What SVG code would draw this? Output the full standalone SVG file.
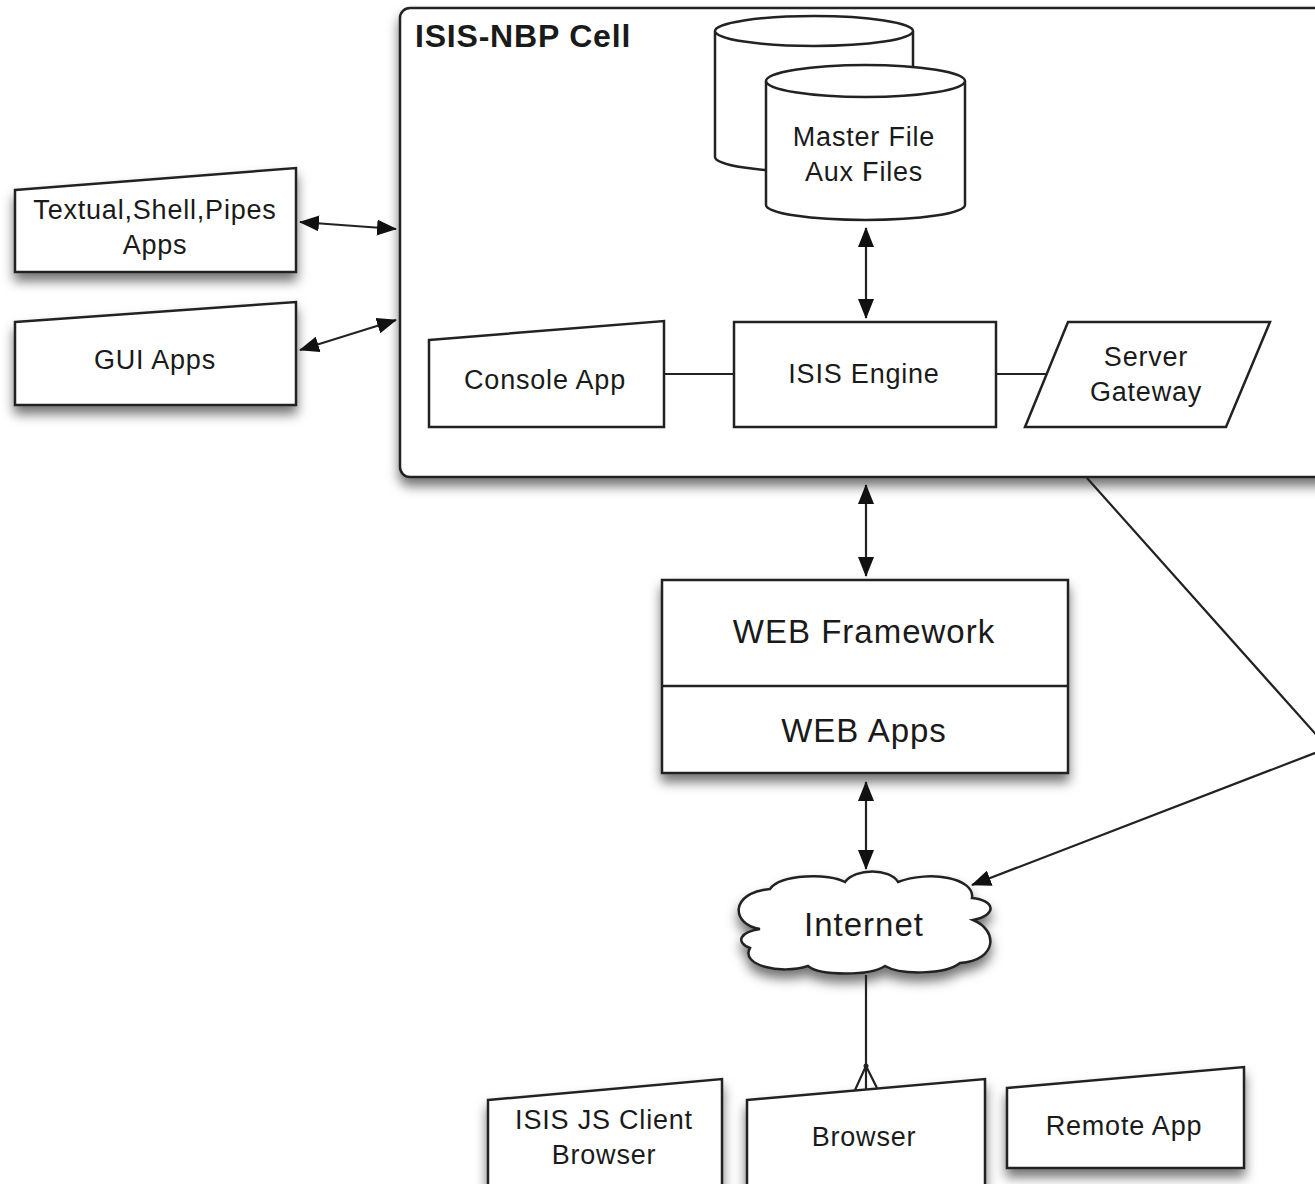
<svg xmlns="http://www.w3.org/2000/svg" width="1315" height="1184" viewBox="0 0 1315 1184">
<style>
.shape{fill:#fff;stroke:#222;stroke-width:2.5}
.lbl{font-family:"Liberation Sans",Arial,sans-serif;font-size:27px;letter-spacing:0.8px;fill:#1a1a1a;text-anchor:middle}
.big{font-size:33px;letter-spacing:1px}
.title{font-family:"Liberation Sans",Arial,sans-serif;font-size:32px;letter-spacing:0.8px;font-weight:bold;fill:#1a1a1a}
.conn{fill:none;stroke:#222;stroke-width:2.2}
</style>
<defs>
<filter id="sh" x="-20%" y="-20%" width="140%" height="160%">
<feDropShadow dx="0" dy="8" stdDeviation="6" flood-color="#000" flood-opacity="0.55"/>
</filter>
<marker id="ah" viewBox="0 0 20 16" refX="19" refY="8" markerWidth="20" markerHeight="16" markerUnits="userSpaceOnUse" orient="auto-start-reverse">
<path d="M0,0 L20,8 L0,16 Z" fill="#111"/>
</marker>
</defs>

<g id="cell">
<rect x="400" y="8" width="1000" height="469" rx="10" class="shape" stroke-width="3" filter="url(#sh)"/>
<text x="415" y="47" class="title">ISIS-NBP Cell</text>
</g>

<g id="textual-apps">
<path d="M15,190 L296,168 L296,272 L15,272 Z" class="shape" filter="url(#sh)"/>
<text x="155" y="219" class="lbl">Textual,Shell,Pipes</text>
<text x="155" y="254" class="lbl">Apps</text>
</g>

<g id="gui-apps">
<path d="M15,322 L296,302 L296,405 L15,405 Z" class="shape" filter="url(#sh)"/>
<text x="155" y="369" class="lbl">GUI Apps</text>
</g>

<g id="master-file">
<path d="M715,31 L715,157 A99,15 0 0 0 913,157 L913,31" class="shape"/>
<ellipse cx="814" cy="31" rx="99" ry="15" class="shape"/>
<path d="M766,81 L766,205 A99.5,15 0 0 0 965,205 L965,81" class="shape"/>
<ellipse cx="865.5" cy="81" rx="99.5" ry="16" class="shape"/>
<text x="864" y="146" class="lbl">Master File</text>
<text x="864" y="181" class="lbl">Aux Files</text>
</g>

<g id="console-app">
<path d="M429,340 L664,321 L664,427 L429,427 Z" class="shape"/>
<text x="545" y="389" class="lbl">Console App</text>
</g>

<g id="isis-engine">
<rect x="734" y="322" width="262" height="105" class="shape"/>
<text x="864" y="383" class="lbl">ISIS Engine</text>
</g>

<g id="server-gateway">
<path d="M1068,322 L1270,322 L1226,427 L1025,427 Z" class="shape"/>
<text x="1146" y="366" class="lbl">Server</text>
<text x="1146" y="401" class="lbl">Gateway</text>
</g>

<g id="web">
<rect x="662" y="580" width="406" height="193" class="shape" filter="url(#sh)"/>
<line x1="662" y1="686" x2="1068" y2="686" stroke="#222" stroke-width="2.5"/>
<text x="864" y="643" class="lbl big">WEB Framework</text>
<text x="864" y="742" class="lbl big">WEB Apps</text>
</g>

<g id="internet">
<path d="M760,929 C732,925 728,893 770,889 C780,874 830,873 845,882 C855,868 890,868 898,882 C930,870 975,878 972,898 C995,900 998,915 973,920 C998,930 998,960 960,963 C945,975 900,975 885,966 C870,976 820,976 808,966 C780,975 740,965 750,948 C735,942 740,932 760,929 Z" class="shape" filter="url(#sh)"/>
<text x="864" y="936" class="lbl big">Internet</text>
</g>

<g id="isis-js-client">
<path d="M488,1100 L722,1079 L722,1195 L488,1195 Z" class="shape" filter="url(#sh)"/>
<text x="604" y="1129" class="lbl">ISIS JS Client</text>
<text x="604" y="1164" class="lbl">Browser</text>
</g>

<g id="browser">
<path d="M747,1100 L985,1079 L985,1195 L747,1195 Z" class="shape" filter="url(#sh)"/>
<text x="864" y="1146" class="lbl">Browser</text>
</g>

<g id="remote-app">
<path d="M1007,1088 L1244,1067 L1244,1168 L1007,1168 Z" class="shape" filter="url(#sh)"/>
<text x="1124" y="1135" class="lbl">Remote App</text>
</g>

<g id="connectors">
<line x1="300" y1="222" x2="396" y2="229" class="conn" marker-start="url(#ah)" marker-end="url(#ah)"/>
<line x1="300" y1="350" x2="396" y2="320" class="conn" marker-start="url(#ah)" marker-end="url(#ah)"/>
<line x1="866" y1="228" x2="866" y2="318" class="conn" marker-start="url(#ah)" marker-end="url(#ah)"/>
<line x1="664" y1="374" x2="734" y2="374" class="conn"/>
<line x1="996" y1="374" x2="1047" y2="374" class="conn"/>
<line x1="866" y1="485" x2="866" y2="576" class="conn" marker-start="url(#ah)" marker-end="url(#ah)"/>
<line x1="866" y1="782" x2="866" y2="869" class="conn" marker-start="url(#ah)" marker-end="url(#ah)"/>
<polyline points="1087,478 1328,748 972,885" class="conn" marker-end="url(#ah)"/>
<line x1="866" y1="975" x2="866" y2="1090" class="conn"/>
<path d="M866,1066 L855,1090 M866,1066 L877,1088" class="conn"/>
<circle cx="866" cy="1066" r="2.5" fill="#222"/>
</g>
</svg>
